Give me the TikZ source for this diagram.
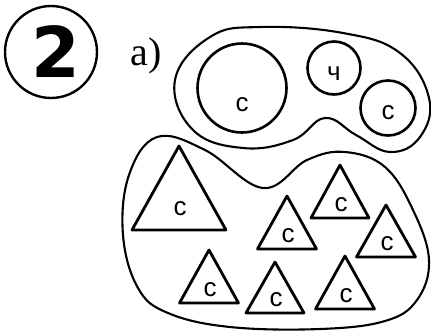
\documentclass[tikz,border=0pt]{standalone}
\usepackage{fontspec}
\setmainfont{Liberation Sans}
\newfontfamily\numfont{DejaVu Sans}
\newfontfamily\partfont{Liberation Serif}
\begin{document}
\begin{tikzpicture}[x=1pt,y=-1pt,line cap=round,line join=round,
  contour/.style={line width=2.1pt},
  ring/.style={circle,draw,line width=2.6pt,inner sep=0pt},
  fig/.style={line width=2.8pt},
  lbl/.style={inner sep=0pt,font=\fontsize{26}{26}\selectfont}]
  \useasboundingbox (0,0) rectangle (431,333);
  % task number
  \node[circle,draw,line width=2.4pt,minimum size=92pt,inner sep=0pt] (num) at (51,52) {};
  \node[inner sep=0pt,font=\numfont\bfseries\fontsize{70}{70}\selectfont] (two) at (56,52) {2};
  \node[inner sep=0pt,font=\partfont\fontsize{40}{40}\selectfont] (part) at (146,56) {а)};
  % upper set
  \draw[contour] plot[smooth cycle,tension=0.7] coordinates {
    (260,27) (343,33) (400,53) (429,98) (420,137) (390,152) (356,135)
    (325,118) (293,140) (243,148) (193,130) (175,80) (210,37)};
  \node[ring,minimum size=89pt] (big) at (242,88) {};
  \node[ring,minimum size=53pt] (small) at (334,68) {};
  \node[ring,minimum size=55pt] (right) at (388,108) {};
  \node[lbl] (bigc) at (242,105) {с};
  \node[lbl] (smallc) at (334,74) {ч};
  \node[lbl] (rightc) at (388,113) {с};
  % lower set
  \draw[contour] plot[smooth cycle,tension=0.65] coordinates {
    (157,137) (205,150) (263,188) (307,160) (345,152) (385,167)
    (413,210) (429,260) (417,300) (385,321) (320,329) (230,327)
    (168,313) (138,288) (123,235) (129,175)};
  \foreach \x/\y/\w/\h [count=\i] in {179/146/47/84, 287/196/29.5/53,
      340/165/29/53, 386/205/29.5/52, 209/250/29.5/53,
      275/262/29/51, 345/256/29.5/53}{
    \draw[fig] (\x,\y) -- (\x-\w,\y+\h) -- (\x+\w,\y+\h) -- cycle;
    \node[lbl] (t\i) at (\x+1,\y+0.74*\h) {с};
  }
\end{tikzpicture}
\end{document}
